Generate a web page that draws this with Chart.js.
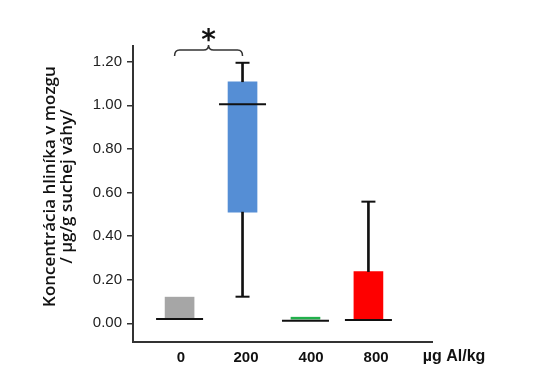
<!DOCTYPE html>
<html>
<head>
<meta charset="utf-8">
<script src="https://cdn.jsdelivr.net/npm/chart.js@4/dist/chart.umd.min.js"></script>
<style>
html,body{margin:0;padding:0;background:#fff;}
#c{display:block;}
</style>
</head>
<body>
<canvas id="c" width="536" height="379"></canvas>
<script>
// ---- data ----
const categories = ['0', '200', '400', '800'];
const unitLabel = 'µg Al/kg';
const boxLow = [0.02, 0.51, 0.019, 0.015];
const boxHigh = [0.12, 1.108, 0.028, 0.237];
const medians = [0.02, 1.005, 0.012, 0.015];
const whiskerLow = [null, 0.122, null, null];
const whiskerHigh = [null, 1.195, null, 0.558];
const yTicks = [0, 0.2, 0.4, 0.6, 0.8, 1.0, 1.2];
const boxColors = ['#a6a6a6', '#558ed5', '#22b04b', '#fe0000'];
const yTitleLines = ['Koncentrácia hliníka v mozgu', '/ µg/g suchej váhy/'];
const significance = { from: 0, to: 1, label: '*' };

// ---- build datasets ----
const idx = categories.map((_, i) => i);
const boxData = idx.map(i => ({ x: i, y: [boxLow[i], boxHigh[i]] }));
const whiskerData = [];
idx.forEach(i => {
  if (whiskerLow[i] != null) whiskerData.push({ x: i, y: [whiskerLow[i], boxLow[i]] });
  if (whiskerHigh[i] != null) whiskerData.push({ x: i, y: [boxHigh[i], whiskerHigh[i]] });
});
const capData = [];
idx.forEach(i => {
  if (whiskerLow[i] != null) capData.push({ x: i, y: whiskerLow[i] });
  if (whiskerHigh[i] != null) capData.push({ x: i, y: whiskerHigh[i] });
});
const medianData = idx.map(i => ({ x: i, y: medians[i] }));

const extras = {
  id: 'extras',
  afterDraw(chart) {
    const ctx = chart.ctx;
    const xs = chart.scales.xBox;
    const xl = chart.scales.xLab;
    const ca = chart.chartArea;
    ctx.save();
    // y axis title (two lines, rotated)
    ctx.fillStyle = '#111';
    ctx.font = '600 17px "Open Sans"';
    ctx.textAlign = 'center';
    ctx.textBaseline = 'alphabetic';
    const cy = ca.top + (ca.bottom - ca.top) * 0.475;
    yTitleLines.forEach((t, k) => {
      ctx.save();
      ctx.translate(ca.left - 78.5 + k * 17, cy);
      ctx.rotate(-Math.PI / 2);
      ctx.fillText(t, 0, 0);
      ctx.restore();
    });
    // unit label after the last category
    ctx.font = 'bold 16px "Liberation Sans"';
    ctx.textBaseline = 'middle';
    ctx.fillStyle = '#111';
    ctx.fillText(unitLabel, xl.getPixelForValue(categories.length + 0.2), ca.bottom + 15);
    // significance bracket
    const x1 = xs.getPixelForValue(significance.from) - 5;
    const x2 = xs.getPixelForValue(significance.to);
    const xm = (x1 + x2) / 2;
    const yb = ca.top + 4;
    ctx.strokeStyle = '#333';
    ctx.lineWidth = 1.5;
    ctx.beginPath();
    ctx.moveTo(x1, yb + 6);
    ctx.quadraticCurveTo(x1, yb, x1 + 5, yb);
    ctx.lineTo(xm - 5, yb);
    ctx.quadraticCurveTo(xm, yb, xm, yb - 5);
    ctx.quadraticCurveTo(xm, yb, xm + 5, yb);
    ctx.lineTo(x2 - 5, yb);
    ctx.quadraticCurveTo(x2, yb, x2, yb + 6);
    ctx.stroke();
    // asterisk
    ctx.font = 'bold 28px "DejaVu Sans"';
    ctx.textBaseline = 'alphabetic';
    ctx.fillStyle = '#111';
    const m = ctx.measureText(significance.label);
    const gy = yb - 15.5;
    ctx.fillText(significance.label, xm, gy + (m.actualBoundingBoxAscent - m.actualBoundingBoxDescent) / 2);
    ctx.restore();
  }
};

new Chart(document.getElementById('c'), {
  type: 'bar',
  data: {
    datasets: [
      { type: 'line', data: medianData, xAxisID: 'xBox', showLine: false, pointStyle: 'line',
        pointRadius: 23.5, pointBorderWidth: 2, pointBorderColor: '#111', order: 0 },
      { type: 'line', data: capData, xAxisID: 'xBox', showLine: false, pointStyle: 'line',
        pointRadius: 7, pointBorderWidth: 2, pointBorderColor: '#111', order: 1 },
      { type: 'bar', data: whiskerData, xAxisID: 'xBox', barThickness: 2, grouped: false,
        backgroundColor: '#111', borderWidth: 0, order: 2 },
      { type: 'bar', data: boxData, xAxisID: 'xBox', barThickness: 29, grouped: false,
        backgroundColor: boxColors, borderWidth: 0, order: 3 }
    ]
  },
  options: {
    responsive: false,
    animation: false,
    devicePixelRatio: 1,
    events: [],
    layout: { padding: { left: 0, top: 46, right: 104, bottom: 0 } },
    plugins: { legend: { display: false }, tooltip: { enabled: false } },
    scales: {
      xBox: {
        type: 'linear', display: false, min: -0.74, max: 4.01, offset: false
      },
      xLab: {
        type: 'linear', position: 'bottom', min: -0.738, max: 3.86, offset: false,
        afterBuildTicks: s => { s.ticks = idx.map(v => ({ value: v })); },
        afterFit: s => { s.height = 37; },
        grid: { display: false, drawTicks: false, offset: false },
        border: { display: true, color: '#333', width: 2 },
        ticks: {
          autoSkip: false, maxRotation: 0, padding: 7, color: '#111',
          font: { family: 'Liberation Sans', size: 15, weight: 'bold' },
          callback: v => categories[v]
        }
      },
      y: {
        type: 'linear', min: -0.0858, max: 1.272,
        afterBuildTicks: s => { s.ticks = yTicks.map(v => ({ value: v })); },
        afterFit: s => { s.width = 133; },
        grid: { display: true, drawOnChartArea: false, drawTicks: true, tickLength: 6, color: '#333', lineWidth: 1.5 },
        border: { display: true, color: '#333', width: 2 },
        ticks: {
          padding: 5, color: '#222',
          font: { family: 'Liberation Sans', size: 15 },
          callback: v => Number(v).toFixed(2)
        }
      }
    }
  },
  plugins: [extras]
});
</script>
</body>
</html>
